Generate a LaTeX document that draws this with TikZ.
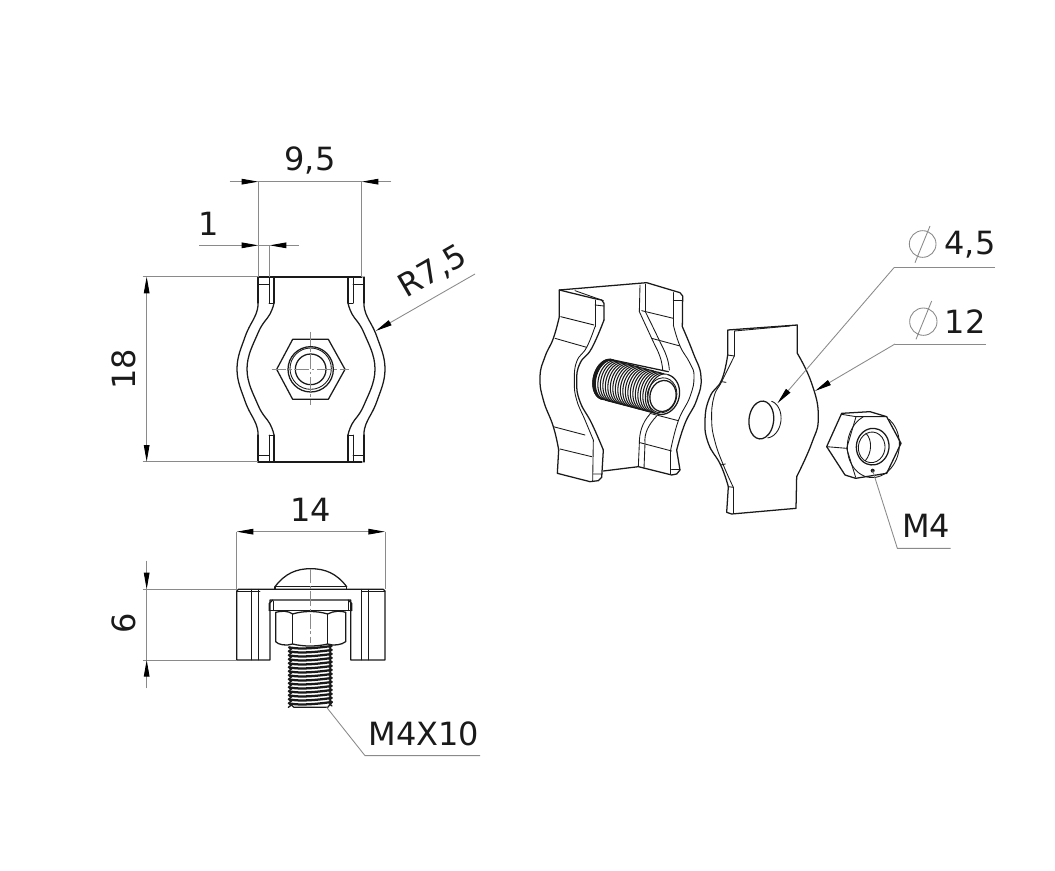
\documentclass[tikz,border=0pt]{standalone}
\usepackage{fontspec}
\setmainfont{DejaVu Sans}
\usetikzlibrary{arrows.meta}
\definecolor{ink}{HTML}{1A1A1A}
\definecolor{dimgray}{HTML}{8A8A8A}
\newcommand\ellarc[7]{plot[smooth,domain=#6:#7,samples=25] ({#1+(#3)*cos(\x)*cos(#5)-(#4)*sin(\x)*sin(#5)},{#2+(#3)*cos(\x)*sin(#5)+(#4)*sin(\x)*cos(#5)})}
\tikzset{
  part/.style={draw=ink,line width=0.95pt,line join=round,line cap=round},
  thin part/.style={draw=ink,line width=0.65pt,line join=round,line cap=round},
  dimline/.style={draw=dimgray,line width=0.65pt},
  center line/.style={draw=dimgray,line width=0.5pt,dash pattern=on 11pt off 2pt on 2pt off 2pt},
  tip/.tip={Triangle[length=12.5pt,width=4.2pt,color=black]},
  dimtext/.style={text=ink,font=\fontsize{24}{28}\selectfont,inner sep=0pt},
  zoomA/.style={shift={(130,140)},scale=1/3},
  zoomB/.style={shift={(100,490)},scale=1/3},
  zoomC/.style={shift={(540,270)},scale=1/3},
  zoomD/.style={shift={(690,220)},scale=1/3}
}
\newcommand\frontside{%
  \draw[part] (258,277) -- (258,303);
  \draw[part] plot[smooth,tension=0.7] coordinates {(258,303) (256,314) (245,337) (237,369) (245,401) (256,424) (258,435)};
  \draw[part] (258,435) -- (258,462);
  \draw[part] (274,277) -- (274,303);
  \draw[part] plot[smooth,tension=0.7] coordinates {(274,303) (270,314) (258,333) (247,369) (258,405) (270,424) (274,435)};
  \draw[part] (274,435) -- (274,462);
  \draw[thin part] (269,277) -- (269,303) (269,435) -- (269,462)
     (258,284) -- (269,284) (258,455) -- (269,455) (269,303) -- (274,303) (269,435) -- (274,435);
}
\begin{document}
\begin{tikzpicture}[x=0.75pt,y=-0.75pt]
\useasboundingbox (0,0) rectangle (1055,870);

%% ---------- front view ----------
\frontside
\begin{scope}[shift={(622,0)},xscale=-1]\frontside\end{scope}
\draw[part] (258,277) -- (362,277) (258,462) -- (362,462);
\begin{scope}[zoomA]
  \draw[part] (440,688) -- (488,598) -- (595,598) -- (645,688) -- (595,778) -- (488,778) -- cycle;
  \draw[part] (542,688) circle[radius=68];
  \draw[thin part] (542,686) circle[radius=62];
  \draw[part] (542,688) circle[radius=46];
  \draw[center line] (542,575) -- (542,795) (425,688) -- (658,688);
  \coordinate (a1) at (299,125); \coordinate (a2) at (385,125);
  \coordinate (a3) at (695,125); \coordinate (a4) at (784,125);
  \coordinate (a5) at (385,410); \coordinate (a6) at (695,410);
  \coordinate (b1) at (208,316); \coordinate (b2) at (385,316);
  \coordinate (b3) at (419,316); \coordinate (b4) at (506,316);
  \coordinate (b5) at (419,410);
  \coordinate (c1) at (50,410); \coordinate (c2) at (50,965);
  \coordinate (c3) at (38,410); \coordinate (c4) at (38,965);
  \coordinate (c5) at (385,410); \coordinate (c6) at (385,965);
  \coordinate (r1) at (1035,402); \coordinate (r2) at (737,573);
\end{scope}
\draw[dimline] (a2) -- (a5) (a3) -- (a6) (b3) -- (b5) (c3) -- (c5) (c4) -- (c6);
\draw[dimline,-tip] (a1) -- (a2);
\draw[dimline,-tip] (a4) -- (a3);
\draw[dimline] (a2) -- (a3);
\draw[dimline,-tip] (b1) -- (b2);
\draw[dimline,-tip] (b4) -- (b3);
\draw[dimline] (b2) -- (b3);
\draw[dimline,tip-tip] (c1) -- (c2);
\draw[dimline,-tip] (r1) -- (r2);
\node[dimtext] (t95) at (310,160) {9,5};
\node[dimtext] (t1) at (209,224) {1};
\node[dimtext,rotate=90] (t18) at (124,369) {18};
\node[dimtext,rotate=30] (tR) at (433,272) {R7,5};

%% ---------- bottom view ----------
\begin{scope}[zoomB]
  % clip body
  \draw[part] (410,510) -- (410,303) -- (415,298) -- (850,298) -- (855,303) -- (855,510) -- (752,510)
     -- (752,330) -- (510,330) -- (510,510) -- cycle;
  \draw[thin part] (455,298) -- (455,510) (475,298) -- (475,510) (785,298) -- (785,510) (805,298) -- (805,510);
  \draw[thin part] (410,303) -- (480,303) (785,303) -- (855,303);
  % screw head
  \draw[part] (525,290) .. controls (555,250) and (590,236) .. (632,236) .. controls (675,236) and (710,250) .. (740,290);
  \draw[part] (525,290) -- (740,290) (525,290) -- (525,298) (740,290) -- (740,298);
  % plate
  \draw[part] (508,362) -- (508,340) -- (518,330) (755,362) -- (755,340) -- (745,330);
  \draw[part] (508,362) -- (755,362);
  \draw[thin part] (520,333) -- (520,362) (745,333) -- (745,362);
  % nut
  \draw[part] (527,367) -- (527,455) .. controls (535,465) and (560,468) .. (578,462)
     .. controls (610,470) and (650,470) .. (683,462) .. controls (700,468) and (725,465) .. (737,455) -- (737,367);
  \draw[part] (527,367) .. controls (545,362) and (565,362) .. (578,372) .. controls (610,362) and (650,362) .. (683,372)
     .. controls (700,362) and (725,362) .. (737,367);
  \draw[thin part] (578,372) -- (578,462) (683,372) -- (683,462);
  % thread
  \foreach \y in {472,484,...,640} {
    \draw[draw=ink,line width=1.7pt,line cap=round] (567,\y) .. controls (600,\y+7) and (650,\y+2) .. (695,\y-4);
    \draw[draw=ink,line width=1pt,line cap=round] (567,\y) -- (573,\y+6) -- (565,\y+12);
    \draw[draw=ink,line width=1pt,line cap=round] (695,\y-4) -- (689,\y+2) -- (696,\y+8);
  }
  \draw[part] (568,640) -- (582,652) -- (683,652) -- (697,636);
  \draw[center line] (632,236) -- (632,460);
  \coordinate (d1) at (410,125); \coordinate (d2) at (855,125);
  \coordinate (d3) at (410,298); \coordinate (d4) at (855,298);
  \coordinate (e1) at (140,212); \coordinate (e2) at (140,298);
  \coordinate (e3) at (140,510); \coordinate (e4) at (140,595);
  \coordinate (e5) at (128,298); \coordinate (e6) at (128,510);
  \coordinate (e7) at (410,298); \coordinate (e8) at (410,510);
  \coordinate (s1) at (680,652); \coordinate (s2) at (795,797); \coordinate (s3) at (1140,797);
\end{scope}
\draw[dimline] (d1) -- (d3) (d2) -- (d4) (e5) -- (e7) (e6) -- (e8) (e2) -- (e3);
\draw[dimline,tip-tip] (d1) -- (d2);
\draw[dimline,-tip] (e1) -- (e2);
\draw[dimline,-tip] (e4) -- (e3);
\draw[dimline] (s1) -- (s2) -- (s3);
\node[dimtext] (t14) at (311,510) {14};
\node[dimtext,rotate=90] (t6) at (124,623) {6};
\node[dimtext] (tM410) at (424,734) {M4X10};

%% ---------- exploded view: clamp body ----------
\begin{scope}[zoomC]
  % left flange
  \draw[part] (160,85) -- (58,60) -- (58,140);
  \draw[part] plot[smooth,tension=0.8] coordinates {(58,140) (40,205) (15,260) (0,320) (10,390) (40,470) (56,540)};
  \draw[part] (56,540) -- (52,610) -- (150,635) -- (175,632) -- (185,622) -- (190,540);
  \draw[part] plot[smooth,tension=0.8] coordinates {(190,540) (155,460) (120,395) (110,335) (120,280) (155,235) (192,150)};
  \draw[part] (192,150) -- (192,100) -- (185,90) -- (160,85);
  \draw[thin part] (165,90) -- (165,170);
  \draw[thin part] plot[smooth,tension=0.8] coordinates {(165,170) (140,232) (110,275) (103,335) (110,390) (135,450) (160,510)};
  \draw[thin part] (160,510) -- (158,632);
  \draw[thin part] (165,105) -- (192,108) (160,612) -- (187,612);
  \draw[thin part] (62,140) -- (162,165) (45,205) -- (140,232) (40,470) -- (135,495) (60,537) -- (155,560);
  % back plate edges and right flange
  \draw[part] (58,60) -- (320,38) -- (420,68) -- (428,78) -- (427,170);
  \draw[part] plot[smooth,tension=0.8] coordinates {(427,170) (460,250) (483,320) (470,390) (435,460) (410,540)};
  \draw[part] (410,540) -- (420,600) -- (410,612) -- (395,615) -- (295,590) -- (190,603);
  \draw[thin part] (105,62) -- (190,92);
  \draw[thin part] (300,45) -- (298,125);
  \draw[thin part] plot[smooth,tension=0.8] coordinates {(298,125) (335,205) (360,260) (368,300)};
  \draw[thin part] (316,42) -- (316,125);
  \draw[thin part] plot[smooth,tension=0.8] coordinates {(316,125) (355,205) (380,260) (388,300)};
  \draw[thin part] (400,68) -- (400,165);
  \draw[thin part] plot[smooth,tension=0.8] coordinates {(400,165) (420,228) (450,280) (462,320) (450,380) (415,452) (392,540)};
  \draw[thin part] (392,540) -- (392,612);
  \draw[thin part] (400,92) -- (428,92) (395,597) -- (420,597);
  \draw[thin part] (305,122) -- (400,145) (335,205) -- (420,228) (330,430) -- (415,452) (300,518) -- (395,543);
  \draw[thin part] (330,432) .. controls (305,460) and (298,490) .. (298,520) -- (295,590)
     (350,438) .. controls (325,465) and (312,490) .. (315,520) -- (312,595);
  % bolt
  \fill[white] (210,268) -- (385,305) -- (425,370) -- (355,435) -- (195,390) -- (150,330) -- cycle;
  \draw[part] (210,268) -- (385,305) (195,390) -- (355,432);
  \foreach \t in {0,...,22}
    \draw[draw=ink,line width=0.8pt] \ellarc{200+\t*7.5}{328+\t*2.0}{40}{61}{14}{90}{270};
  \foreach \t in {0,...,3}
    \draw[draw=ink,line width=0.9pt] \ellarc{200+\t*2}{328+\t*0.5}{40}{61}{14}{90}{270};
  \draw[part] \ellarc{368}{373}{50}{61}{14}{-90}{90};
  \draw[part,fill=white] \ellarc{369}{378}{39}{47}{14}{0}{360};
  \draw[thin part] \ellarc{366}{376}{44}{53}{14}{-90}{270};
\end{scope}

%% ---------- exploded view: plate ----------
\begin{scope}[zoomD]
  \draw[part] (113,405) -- (113,330) -- (322,315) -- (322,400);
  \draw[part] plot[smooth,tension=0.8] coordinates {(322,400) (365,490) (385,590) (365,670) (320,770)};
  \draw[part] (320,770) -- (318,865) -- (125,882) -- (110,877) -- (115,800);
  \draw[part] plot[smooth,tension=0.8] coordinates {(115,800) (92,735) (55,670) (45,600) (60,530) (95,480) (113,405)};
  \draw[thin part] (133,333) -- (300,318);
  \draw[thin part] (133,333) -- (133,408);
  \draw[thin part] plot[smooth,tension=0.8] coordinates {(133,408) (95,485) (72,530) (65,600) (75,665) (100,735) (130,802)};
  \draw[thin part] (130,802) -- (130,880);
  \draw[thin part] (113,405) -- (133,408) (115,800) -- (130,802) (95,485) -- (108,487) (92,735) -- (106,732);
  \draw[part] \ellarc{214}{600}{37}{57}{6}{0}{360};
  \draw[thin part] \ellarc{232}{598}{41}{56}{6}{-80}{80};
  % nut
  \draw[part] (455,580) -- (540,575) -- (590,590) -- (633,670) -- (590,760) -- (497,775) -- (465,765) -- (410,680) -- cycle;
  \draw[thin part] (410,680) -- (470,685) (498,590) -- (470,685) -- (497,772) (455,583) -- (498,590) -- (590,590);
  \draw[thin part] \ellarc{550}{677}{78}{96}{6}{-60}{240};
  \draw[part] \ellarc{548}{680}{49}{55}{6}{0}{360};
  \draw[thin part] \ellarc{545}{682}{40}{46}{6}{0}{360};
  \draw[thin part] (528,640) .. controls (548,660) and (545,700) .. (526,722);
  \fill[ink] (548,752) circle[radius=6];
  \coordinate (n1) at (548,752); \coordinate (n2) at (622,985); \coordinate (n3) at (782,985);
  \coordinate (p1) at (915,143); \coordinate (p2) at (612,143); \coordinate (p3) at (262,550);
  \coordinate (q1) at (888,372); \coordinate (q2) at (615,372); \coordinate (q3) at (375,513);
  \draw[dimline] (698,72) circle[radius=40] (720,18) -- (675,128);
  \draw[dimline] (700,305) circle[radius=41] (725,243) -- (678,358);
\end{scope}
\draw[dimline] (n1) -- (n2) -- (n3);
\draw[dimline] (p1) -- (p2);
\draw[dimline,-tip] (p2) -- (p3);
\draw[dimline] (q1) -- (q2);
\draw[dimline,-tip] (q2) -- (q3);
\node[dimtext] (t45) at (970,245) {4,5};
\node[dimtext] (t12) at (965,322) {12};
\node[dimtext] (tM4) at (926,526) {M4};
\end{tikzpicture}
\end{document}
